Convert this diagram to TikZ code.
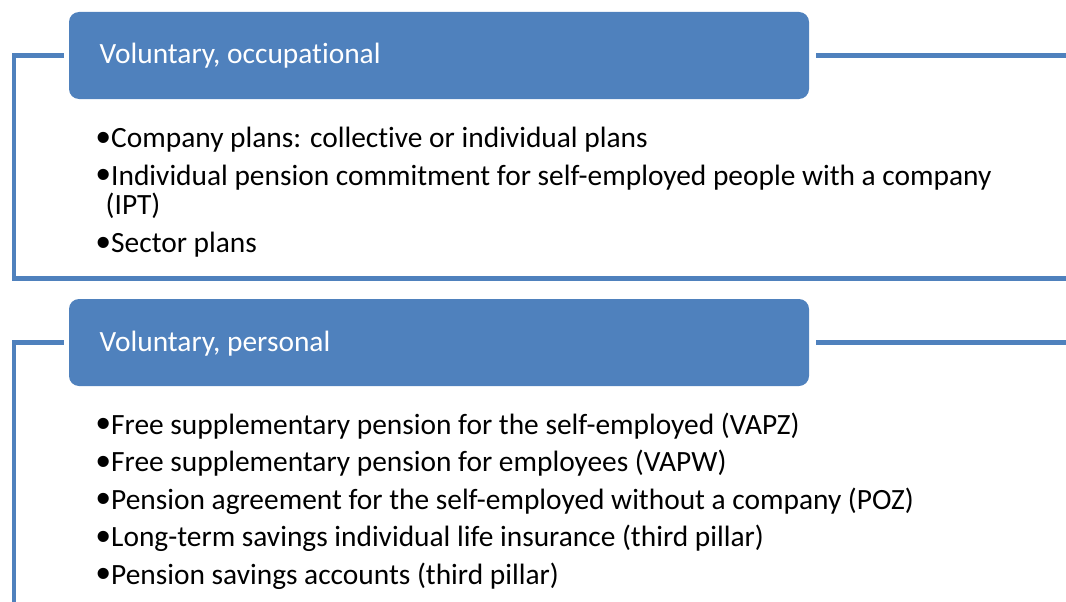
\documentclass[tikz,border=0pt]{standalone}
\usepackage{fontspec}
\setmainfont{Carlito}[Ligatures=NoCommon]
\newfontfamily\bulletfont{Liberation Sans}
\definecolor{accent}{HTML}{4F81BD}
\begin{document}
\begin{tikzpicture}[x=1pt,y=-1pt,
  hbox/.style={fill=accent, draw=none, rounded corners=10pt, minimum width=740pt, minimum height=87pt, inner sep=0pt},
  conn/.style={draw=accent, line width=4.5pt},
  htext/.style={anchor=base west, text=white, font=\fontsize{29.4}{30}\selectfont, inner sep=0pt},
  btext/.style={anchor=base west, text=black, font=\fontsize{29.4}{30}\selectfont, inner sep=0pt},
  bul/.style={anchor=base west, text=black, font=\bulletfont\fontsize{41}{42}\selectfont, inner sep=0pt, yshift=-3.5pt}]
\useasboundingbox (0,0) rectangle (1066,602);
% group 1
\node[hbox] (h1) at (439,55.5) {};
\node[htext] (h1t) at (99.5,64) {Voluntary, occupational};
\coordinate (l1top) at (14,55.5);
\coordinate (l1bot) at (14,278.5);
\coordinate (r1bot) at (1066,278.5);
\coordinate (r1top) at (1066,55.5);
\draw[conn] ([xshift=-5pt]h1.west) -- (l1top) -- (l1bot) -- (r1bot);
\draw[conn] ([xshift=7pt]h1.east) -- (r1top);
\node[bul] (b11) at (96.5,147.5) {•};
\node[btext] (t11) at (111,147.5) {Company plans: collective or individual plans};
\node[bul] (b12) at (96.5,185) {•};
\node[btext] (t12) at (111,185) {Individual pension commitment for self-employed people with a company};
\node[btext] (t12b) at (105.5,214.5) {(IPT)};
\node[bul] (b13) at (96.5,252.5) {•};
\node[btext] (t13) at (111,252.5) {Sector plans};
% group 2
\node[hbox] (h2) at (439,342.5) {};
\node[htext] (h2t) at (99.5,351) {Voluntary, personal};
\coordinate (l2top) at (14,342.5);
\coordinate (l2bot) at (14,604);
\coordinate (r2top) at (1066,342.5);
\draw[conn] ([xshift=-5pt]h2.west) -- (l2top) -- (l2bot);
\draw[conn] ([xshift=7pt]h2.east) -- (r2top);
\node[bul] (b21) at (96.5,434) {•};
\node[btext] (t21) at (111,434) {Free supplementary pension for the self-employed (VAPZ)};
\node[bul] (b22) at (96.5,471.5) {•};
\node[btext] (t22) at (111,471.5) {Free supplementary pension for employees (VAPW)};
\node[bul] (b23) at (96.5,509) {•};
\node[btext] (t23) at (111,509) {Pension agreement for the self-employed without a company (POZ)};
\node[bul] (b24) at (96.5,546.5) {•};
\node[btext] (t24) at (111,546.5) {Long-term savings individual life insurance (third pillar)};
\node[bul] (b25) at (96.5,584) {•};
\node[btext] (t25) at (111,584) {Pension savings accounts (third pillar)};
\end{tikzpicture}
\end{document}
